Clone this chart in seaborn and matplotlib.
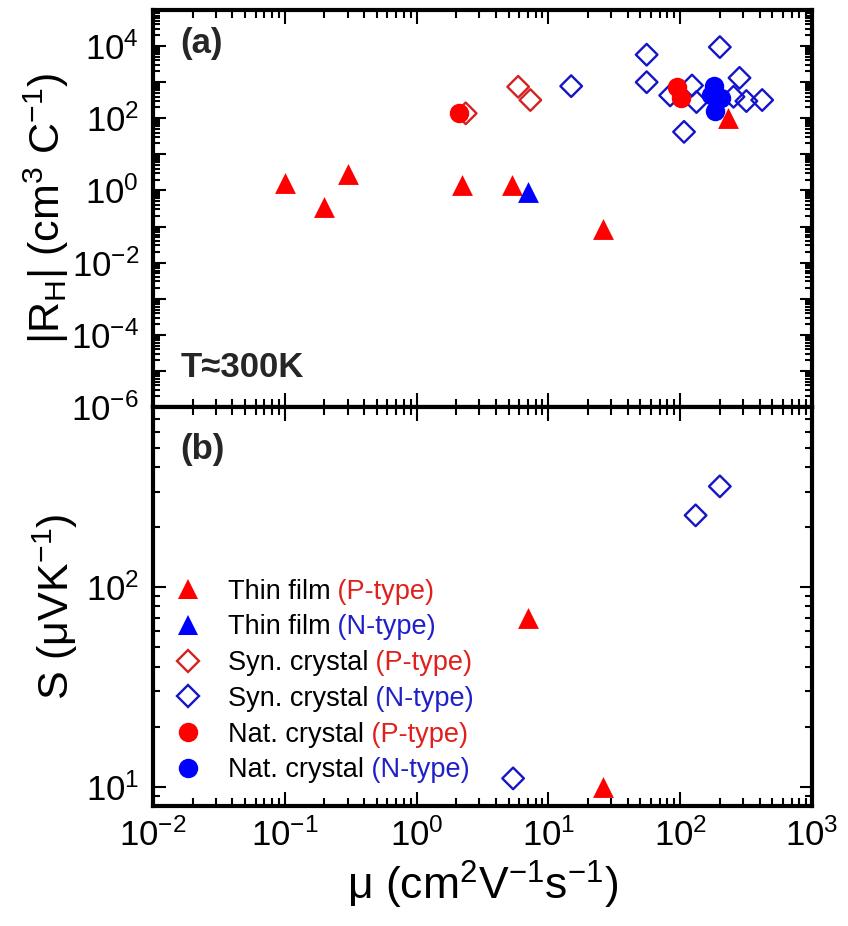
import numpy as np
import pandas as pd
import matplotlib
matplotlib.use("Agg")
import matplotlib.pyplot as plt
import seaborn as sns
from matplotlib.ticker import LogLocator, FuncFormatter, NullFormatter
from matplotlib.lines import Line2D

# ---- Hall coefficient vs mobility (panel a) ----
thin_p_mu = [0.1, 0.2, 0.3, 2.2, 5.3, 26, 230]
thin_p_rh = [1.6, 0.35, 2.9, 1.43, 1.43, 0.085, 104]

thin_n_mu = [7.0]
thin_n_rh = [0.9]

syn_p_mu = [2.36, 5.9, 7.3]
syn_p_rh = [137, 745, 320]

syn_n_mu = [14.9, 55.7, 55.7, 200, 84, 123, 133, 107, 282, 254, 318, 419]
syn_n_rh = [776, 5770, 1000, 9380, 430, 809, 282, 42, 1315, 394, 300, 320]

nat_p_mu = [2.1, 95, 102]
nat_p_rh = [143, 745, 370]

nat_n_mu = [180, 205, 185, 171]
nat_n_rh = [809, 370, 159, 430]

# ---- Seebeck coefficient vs mobility (panel b) ----
s_thin_p_mu = [7.0, 26]
s_thin_p_s = [70, 10]

s_syn_n_mu = [5.4, 131, 200]
s_syn_n_s = [11, 229, 320]

x_ticks = [1e-2, 1e-1, 1e0, 1e1, 1e2, 1e3]

legend_names = ["Thin film", "Thin film", "Syn. crystal", "Syn. crystal",
                "Nat. crystal", "Nat. crystal"]
legend_types = ["(P-type)", "(N-type)", "(P-type)", "(N-type)",
                "(P-type)", "(N-type)"]

RED = "#ff0000"
BLUE = "#0000ff"
RED_EDGE = "#d42222"
BLUE_EDGE = "#1414c8"
RED_TXT = "#e0201c"
BLUE_TXT = "#2020c8"

sns.set_theme(style="ticks")
plt.rcParams["font.family"] = ["Liberation Sans", "DejaVu Sans"]
plt.rcParams["mathtext.fontset"] = "custom"
plt.rcParams["mathtext.rm"] = "Liberation Sans"
plt.rcParams["mathtext.it"] = "Liberation Sans:italic"
plt.rcParams["mathtext.bf"] = "Liberation Sans:bold"
plt.rcParams["mathtext.default"] = "regular"

fig = plt.figure(figsize=(8.48, 9.26), dpi=100)
ax_top = fig.add_axes([0.1804, 0.5605, 0.7771, 0.4287])
ax_bot = fig.add_axes([0.1804, 0.1296, 0.7771, 0.4309])


def plot_group(ax, mu, val, marker, size, color, edge, filled, z):
    df = pd.DataFrame({"mu": mu, "val": val})
    if filled:
        sns.scatterplot(data=df, x="mu", y="val", ax=ax, marker=marker,
                        s=size ** 2, color=color, edgecolor=color,
                        linewidth=0, zorder=z, legend=False)
    else:
        sns.scatterplot(data=df, x="mu", y="val", ax=ax, marker=marker,
                        s=size ** 2, color=edge, facecolor="none",
                        edgecolor=edge, linewidth=1.7, zorder=z, legend=False)


# panel (a)
plot_group(ax_top, syn_n_mu, syn_n_rh, "D", 11, BLUE, BLUE_EDGE, False, 3)
plot_group(ax_top, syn_p_mu, syn_p_rh, "D", 11, RED, RED_EDGE, False, 3)
plot_group(ax_top, nat_p_mu, nat_p_rh, "o", 14, RED, RED, True, 4)
plot_group(ax_top, nat_n_mu, nat_n_rh, "o", 14, BLUE, BLUE, True, 4)
plot_group(ax_top, thin_p_mu, thin_p_rh, "^", 15, RED, RED, True, 5)
plot_group(ax_top, thin_n_mu, thin_n_rh, "^", 15, BLUE, BLUE, True, 6)

# panel (b)
plot_group(ax_bot, s_syn_n_mu, s_syn_n_s, "D", 11, BLUE, BLUE_EDGE, False, 3)
plot_group(ax_bot, s_thin_p_mu, s_thin_p_s, "^", 15, RED, RED, True, 5)


def pow10(v, pos):
    return r"$10^{%d}$" % int(round(np.log10(v)))


def pow10_even(v, pos):
    e = int(round(np.log10(v)))
    return r"$10^{%d}$" % e if e % 2 == 0 else ""


for ax in (ax_top, ax_bot):
    ax.set_xscale("log")
    ax.set_yscale("log")
    ax.set_xlim(x_ticks[0], x_ticks[-1])
    ax.set_xticks(x_ticks)
    ax.xaxis.set_minor_locator(LogLocator(base=10, subs=np.arange(2, 10), numticks=30))
    ax.yaxis.set_minor_locator(LogLocator(base=10, subs=np.arange(2, 10), numticks=30))
    ax.xaxis.set_major_formatter(FuncFormatter(pow10))
    ax.xaxis.set_minor_formatter(NullFormatter())
    ax.yaxis.set_minor_formatter(NullFormatter())
    ax.tick_params(which="both", direction="in", top=True, right=True,
                   bottom=True, left=True, width=1.5, color="black",
                   labelcolor="black", labelsize=25)
    ax.tick_params(axis="x", which="major", length=10, pad=9)
    ax.tick_params(axis="x", which="minor", length=6)
    ax.tick_params(axis="y", which="major", length=9, pad=10)
    ax.tick_params(axis="y", which="minor", length=5)
    for sp in ax.spines.values():
        sp.set_linewidth(3)
        sp.set_color("black")
    ax.set_facecolor("white")
    ax.set_xlabel("")
    ax.set_ylabel("")

ax_top.set_ylim(1e-6, 1e5)
ax_top.yaxis.set_major_locator(LogLocator(base=10, numticks=30))
ax_top.yaxis.set_major_formatter(FuncFormatter(pow10_even))
ax_top.tick_params(axis="x", labelbottom=False)

ax_bot.set_ylim(8, 800)
ax_bot.yaxis.set_major_locator(LogLocator(base=10, numticks=30))
ax_bot.yaxis.set_major_formatter(FuncFormatter(pow10))

ax_top.set_ylabel(r"|R$_{H}$| (cm$^{3}$ C$^{-1}$)", fontsize=31, color="black")
ax_top.yaxis.set_label_coords(-0.125, 0.5)
ax_bot.set_ylabel(r"S ($\mathregular{\mu}$VK$^{-1}$)", fontsize=31, color="black")
ax_bot.yaxis.set_label_coords(-0.11, 0.5)
ax_bot.set_xlabel(r"μ (cm$^{2}$V$^{-1}$s$^{-1}$)", fontsize=32, color="black",
                  labelpad=4)

ax_top.text(0.042, 0.958, "(a)", transform=ax_top.transAxes, fontsize=25,
            fontweight="bold", ha="left", va="top")
ax_top.text(0.042, 0.075, "T≈300K", transform=ax_top.transAxes, fontsize=25,
            fontweight="bold", ha="left", va="baseline")
ax_bot.text(0.042, 0.935, "(b)", transform=ax_bot.transAxes, fontsize=25,
            fontweight="bold", ha="left", va="top")

handles = [
    Line2D([], [], ls="none", marker="^", ms=15, color=RED, mew=0),
    Line2D([], [], ls="none", marker="^", ms=15, color=BLUE, mew=0),
    Line2D([], [], ls="none", marker="D", ms=11, mfc="none", mec=RED_EDGE, mew=1.7),
    Line2D([], [], ls="none", marker="D", ms=11, mfc="none", mec=BLUE_EDGE, mew=1.7),
    Line2D([], [], ls="none", marker="o", ms=14, color=RED, mew=0),
    Line2D([], [], ls="none", marker="o", ms=14, color=BLUE, mew=0),
]
leg = ax_bot.legend(handles, legend_names, loc="upper left",
                    bbox_to_anchor=(0.035, 0.57), frameon=False, fontsize=19.5,
                    handlelength=0.85, handletextpad=1.05, labelspacing=0.36,
                    borderpad=0, borderaxespad=0)
for txt in leg.get_texts():
    txt.set_color("black")

fig.canvas.draw()
for txt, tag in zip(leg.get_texts(), legend_types):
    col = RED_TXT if tag.startswith("(P") else BLUE_TXT
    ax_bot.annotate(" " + tag, xy=(1, 0), xycoords=txt, ha="left", va="bottom",
                    fontsize=19.5, color=col, zorder=7)

fig.savefig("out.png", dpi=100, facecolor="white")
